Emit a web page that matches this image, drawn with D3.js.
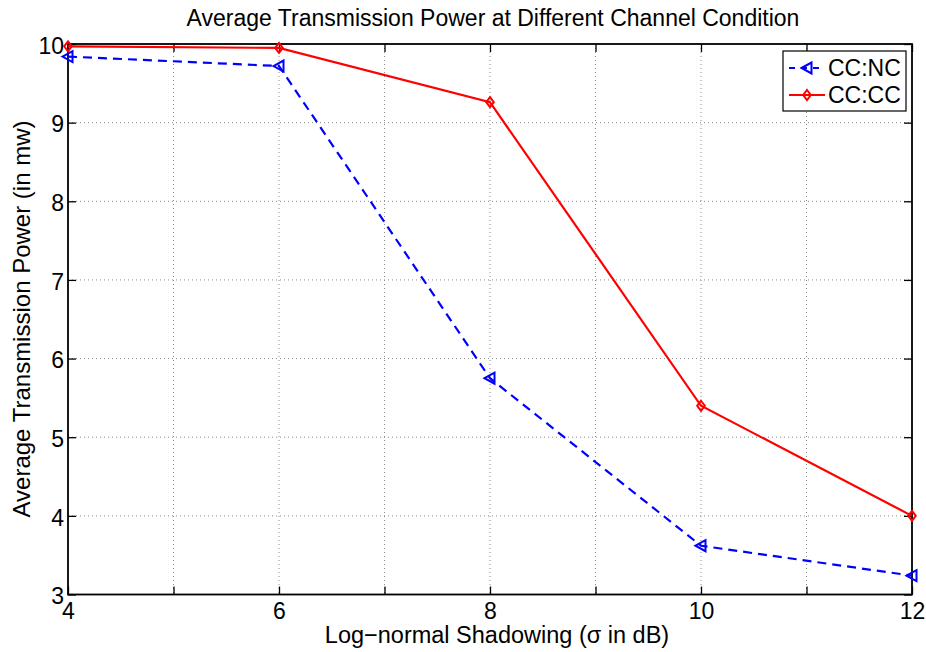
<!DOCTYPE html>
<html>
<head>
<meta charset="utf-8">
<script src="https://cdn.jsdelivr.net/npm/d3@7"></script>
<style>
  html, body { margin: 0; padding: 0; background: #fff; }
  svg { display: block; font-family: "Liberation Sans", Arial, sans-serif; }
</style>
</head>
<body>
<svg id="chart" width="926" height="652"></svg>
<script>
// Shadowing levels (sigma in dB)
const sigma = [4, 6, 8, 10, 12];
// Average transmission power (mW) for each scheme
const powerNC = [9.84, 9.72, 5.75, 3.62, 3.24];
const powerCC = [9.97, 9.95, 9.26, 5.40, 4.00];
const seriesNames = ["CC:NC", "CC:CC"];
const xTicks = [4, 5, 6, 7, 8, 9, 10, 11, 12];
const xTickLabels = ["4", "", "6", "", "8", "", "10", "", "12"];
const yTicks = [3, 4, 5, 6, 7, 8, 9, 10];

const svg = d3.select("#chart");
const W = 926, H = 652;
const m = { left: 68, right: W - 912, top: 44, bottom: H - 594.5 };
const pw = W - m.left - m.right, ph = H - m.top - m.bottom;

const x = d3.scaleLinear().domain([4, 12]).range([m.left, m.left + pw]);
const y = d3.scaleLinear().domain([3, 10]).range([m.top + ph, m.top]);

const g = svg.append("g");

// dotted grid
g.append("g").selectAll("line").data(xTicks.slice(1, -1)).join("line")
  .attr("x1", d => x(d)).attr("x2", d => x(d))
  .attr("y1", m.top).attr("y2", m.top + ph)
  .attr("stroke", "#8a8a8a").attr("stroke-width", 1).attr("stroke-dasharray", "1,3");
g.append("g").selectAll("line").data(yTicks.slice(1, -1)).join("line")
  .attr("y1", d => y(d)).attr("y2", d => y(d))
  .attr("x1", m.left).attr("x2", m.left + pw)
  .attr("stroke", "#8a8a8a").attr("stroke-width", 1).attr("stroke-dasharray", "1,3");

// axes with inward ticks on all four sides
const tl = 8;
const xAxis = d3.axisBottom(x).tickValues(xTicks).tickSizeInner(-tl).tickSizeOuter(0)
  .tickPadding(8).tickFormat((d, i) => xTickLabels[i]);
const xa = g.append("g").attr("transform", `translate(0,${m.top + ph})`).call(xAxis);
const yAxis = d3.axisLeft(y).tickValues(yTicks).tickSizeInner(-tl).tickSizeOuter(0)
  .tickPadding(4).tickFormat(d3.format("d"));
const ya = g.append("g").attr("transform", `translate(${m.left},0)`).call(yAxis);
const xTop = g.append("g").attr("transform", `translate(0,${m.top})`)
  .call(d3.axisTop(x).tickValues(xTicks).tickSizeInner(-tl).tickSizeOuter(0).tickFormat(""));
const yRight = g.append("g").attr("transform", `translate(${m.left + pw},0)`)
  .call(d3.axisRight(y).tickValues(yTicks).tickSizeInner(-tl).tickSizeOuter(0).tickFormat(""));

[xa, ya, xTop, yRight].forEach(a => {
  a.select(".domain").remove();
  a.selectAll(".tick line").attr("stroke", "#000").attr("stroke-width", 1.3);
  a.selectAll("text").attr("font-size", 23).attr("fill", "#000")
    .attr("font-family", "'Liberation Sans', Arial, sans-serif");
});
xa.selectAll("text").attr("dy", "0.71em");
ya.selectAll("text").attr("dy", "0.4em");

// frame
g.append("rect").attr("x", m.left).attr("y", m.top).attr("width", pw).attr("height", ph)
  .attr("fill", "none").attr("stroke", "#000").attr("stroke-width", 1.8);

const line = d3.line().x(d => x(d[0])).y(d => y(d[1]));
const ncData = sigma.map((s, i) => [s, powerNC[i]]);
const ccData = sigma.map((s, i) => [s, powerCC[i]]);

const triPath = "M-5.5,0 L4.5,-5.5 L4.5,5.5 Z";
const diaPath = "M0,-5 L3.8,0 L0,5 L-3.8,0 Z";

g.append("path").datum(ncData).attr("d", line).attr("fill", "none")
  .attr("stroke", "#0000ff").attr("stroke-width", 2.2).attr("stroke-dasharray", "9,6");
g.append("g").selectAll("path").data(ncData).join("path")
  .attr("transform", d => `translate(${x(d[0])},${y(d[1])})`)
  .attr("d", triPath).attr("fill", "none").attr("stroke", "#0000ff").attr("stroke-width", 2);

g.append("path").datum(ccData).attr("d", line).attr("fill", "none")
  .attr("stroke", "#ff0000").attr("stroke-width", 2.2);
g.append("g").selectAll("path").data(ccData).join("path")
  .attr("transform", d => `translate(${x(d[0])},${y(d[1])})`)
  .attr("d", diaPath).attr("fill", "none").attr("stroke", "#ff0000").attr("stroke-width", 2);

// legend
const lg = g.append("g").attr("transform", "translate(783,51)");
lg.append("rect").attr("width", 123).attr("height", 60)
  .attr("fill", "#fff").attr("stroke", "#000").attr("stroke-width", 1.2);
const items = [
  { name: seriesNames[0], color: "#0000ff", dash: "6,6", marker: triPath },
  { name: seriesNames[1], color: "#ff0000", dash: null, marker: diaPath }
];
items.forEach((it, i) => {
  const cy = 17 + i * 27;
  const row = lg.append("g").attr("transform", `translate(0,${cy})`);
  row.append("line").attr("x1", 6).attr("x2", 42).attr("y1", 0).attr("y2", 0)
    .attr("stroke", it.color).attr("stroke-width", 2.2)
    .attr("stroke-dasharray", it.dash);
  row.append("path").attr("d", it.marker).attr("transform", "translate(24,0)")
    .attr("fill", "none").attr("stroke", it.color).attr("stroke-width", 2);
  row.append("text").attr("x", 45).attr("y", 0).attr("dy", "0.36em")
    .attr("font-size", 23).attr("fill", "#000").text(it.name);
});

// title and axis labels
svg.append("text").attr("x", 493).attr("y", 26).attr("text-anchor", "middle")
  .attr("font-size", 23).attr("fill", "#000")
  .text("Average Transmission Power at Different Channel Condition");
svg.append("text").attr("x", 497).attr("y", 643).attr("text-anchor", "middle")
  .attr("font-size", 23.5).attr("fill", "#000")
  .text("Log\u2212normal Shadowing (\u03c3 in dB)");
svg.append("text").attr("transform", "translate(30,319) rotate(-90)")
  .attr("text-anchor", "middle").attr("font-size", 24).attr("fill", "#000")
  .text("Average Transmission Power (in mw)");
</script>
</body>
</html>
